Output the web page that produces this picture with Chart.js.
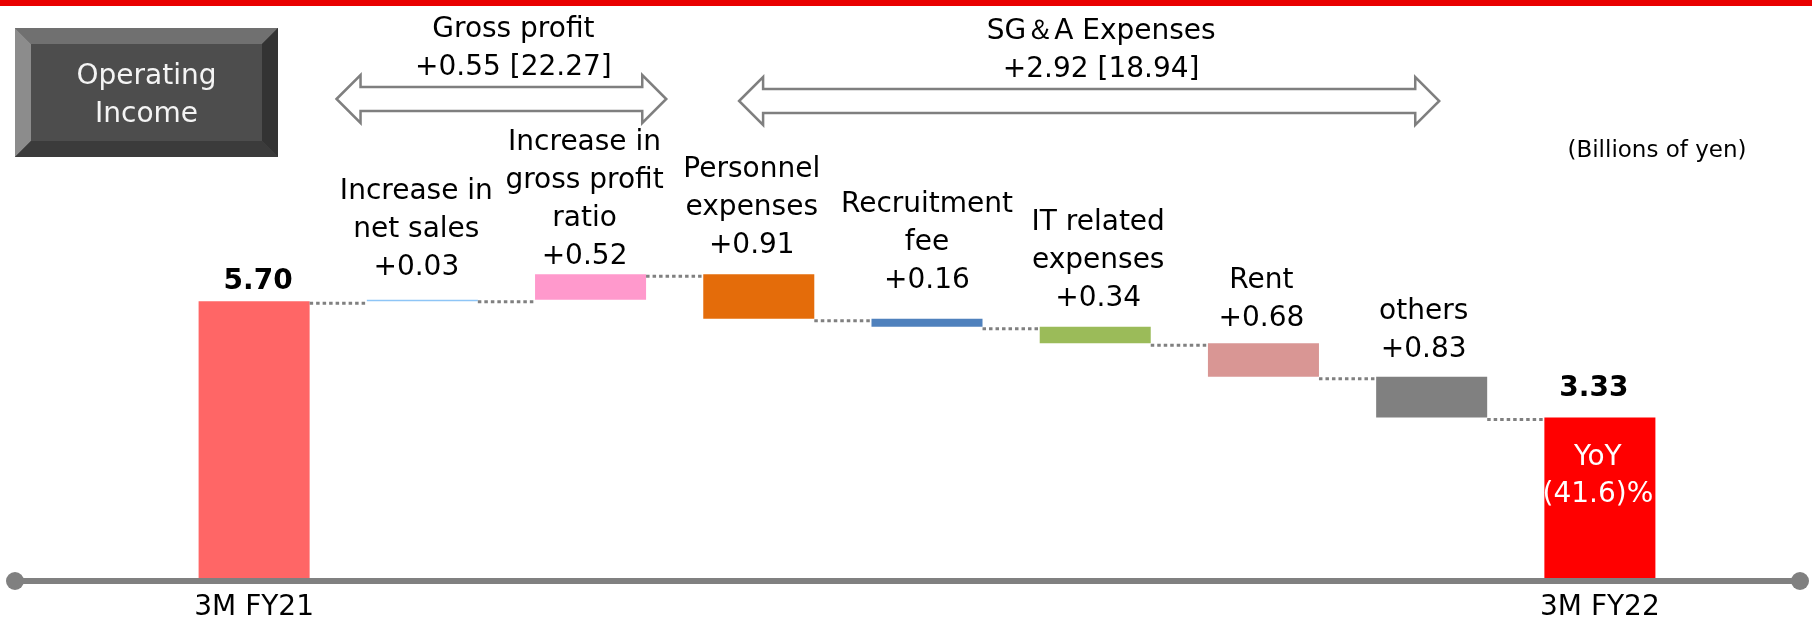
<!DOCTYPE html>
<html><head><meta charset="utf-8">
<script src="https://cdn.jsdelivr.net/npm/chart.js@4.4.1/dist/chart.umd.min.js"></script>
<style>html,body{margin:0;padding:0;background:#fff;}canvas{display:block;}</style>
</head><body>
<canvas id="c" width="1812" height="625"></canvas>
<script>
// ---- data ----
const categories = [["3M FY21"],["Increase in","net sales"],["Increase in","gross profit","ratio"],["Personnel","expenses"],["Recruitment","fee"],["IT related","expenses"],["Rent"],["others"],["3M FY22"]];
const tickLabels = ["3M FY21","","","","","","","","3M FY22"];
const startValue = 5.70;
const grossProfitChanges = [0.03, 0.52];
const sgaExpenseIncreases = [0.91, 0.16, 0.34, 0.68, 0.83];
const endValue = 3.33;
const groupTitles = ["Gross profit", "SG\uFF06A Expenses"];
const groupTotals = [22.27, 18.94];
const unitLabel = "(Billions of yen)";
const boxTitle = ["Operating", "Income"];

// ---- style ----
const barColors = ["#FF6666","#8EC5F6","#FF99CC","#E46C0A","#4F81BD","#9BBB59","#D99694","#808080","#FF0000"];
const labelGap = [12,25,10,21,31,21,17,20,21];
const labelDx = [4,-6,-6,-7,0,3,-2,-8,-6];
const groupSpans = [[0.49,2.45],[2.883,7.045]];
const groupArrowY = [99,101];
const FONT = "'DejaVu Sans', Verdana, sans-serif";

// waterfall ranges built from the read values
const steps = [...grossProfitChanges, ...sgaExpenseIncreases.map(v => -v)];
const stepLabels = [...grossProfitChanges, ...sgaExpenseIncreases].map(v => "+" + v.toFixed(2));
const ranges = [[0, startValue]];
const levels = [startValue];
let run = startValue;
steps.forEach(d => {
  const a = run; run = Math.round((run + d) * 100) / 100;
  ranges.push([Math.min(a, run), Math.max(a, run)]);
  levels.push(run);
});
ranges.push([0, endValue]);
const grossSum = grossProfitChanges.reduce((s,v)=>s+v,0);
const sgaSum = sgaExpenseIncreases.reduce((s,v)=>s+v,0);
const groupValues = [grossSum, sgaSum];
const yoy = (endValue - startValue) / startValue * 100;

function doubleArrow(ctx, xl, xr, yc) {
  const h = 24, sh = 12, hh = 24;
  ctx.beginPath();
  ctx.moveTo(xl, yc);
  ctx.lineTo(xl + h, yc - hh); ctx.lineTo(xl + h, yc - sh);
  ctx.lineTo(xr - h, yc - sh); ctx.lineTo(xr - h, yc - hh);
  ctx.lineTo(xr, yc);
  ctx.lineTo(xr - h, yc + hh); ctx.lineTo(xr - h, yc + sh);
  ctx.lineTo(xl + h, yc + sh); ctx.lineTo(xl + h, yc + hh);
  ctx.closePath();
  ctx.fillStyle = "#fff"; ctx.fill();
  ctx.strokeStyle = "#7F7F7F"; ctx.lineWidth = 2.5; ctx.lineJoin = "miter"; ctx.stroke();
}

const decor = {
  id: "decor",
  beforeDatasetsDraw(chart) {
    const ctx = chart.ctx;
    ctx.save();
    ctx.fillStyle = "#E90000"; ctx.fillRect(0, 0, chart.width, 6);
    const bx = 15, by = 28, bw = 263, bh = 129, bv = 16;
    ctx.fillStyle = "#4D4D4D"; ctx.fillRect(bx, by, bw, bh);
    const quad = (pts, col) => { ctx.beginPath(); ctx.moveTo(pts[0][0], pts[0][1]); pts.slice(1).forEach(p => ctx.lineTo(p[0], p[1])); ctx.closePath(); ctx.fillStyle = col; ctx.fill(); };
    quad([[bx,by],[bx+bw,by],[bx+bw-bv,by+bv],[bx+bv,by+bv]], "#707070");
    quad([[bx,by],[bx+bv,by+bv],[bx+bv,by+bh-bv],[bx,by+bh]], "#8C8C8C");
    quad([[bx+bw,by],[bx+bw,by+bh],[bx+bw-bv,by+bh-bv],[bx+bw-bv,by+bv]], "#333333");
    quad([[bx,by+bh],[bx+bv,by+bh-bv],[bx+bw-bv,by+bh-bv],[bx+bw,by+bh]], "#3B3B3B");
    ctx.fillStyle = "#F4F4F4"; ctx.font = "28px " + FONT; ctx.textAlign = "center"; ctx.textBaseline = "alphabetic";
    ctx.fillText(boxTitle[0], bx + bw/2, 84);
    ctx.fillText(boxTitle[1], bx + bw/2, 122);
    ctx.fillStyle = "#000"; ctx.font = "23px " + FONT;
    ctx.fillText(unitLabel, 1657, 157);
    const xs = chart.scales.x;
    groupSpans.forEach((sp, g) => {
      const xl = xs.getPixelForValue(sp[0]), xr = xs.getPixelForValue(sp[1]);
      const yc = groupArrowY[g];
      doubleArrow(ctx, xl, xr, yc);
      ctx.fillStyle = "#000"; ctx.font = "28px " + FONT; ctx.textAlign = "center";
      const cx = (xl + xr) / 2 + 12;
      ctx.fillText(groupTitles[g], cx, yc - 62);
      ctx.fillText("+" + groupValues[g].toFixed(2) + " [" + groupTotals[g].toFixed(2) + "]", cx, yc - 24);
    });
    ctx.restore();
  },
  afterDatasetsDraw(chart) {
    const ctx = chart.ctx;
    const meta = chart.getDatasetMeta(0);
    const ys = chart.scales.y;
    ctx.save();
    ctx.strokeStyle = "#808080"; ctx.lineWidth = 3; ctx.setLineDash([3.5, 3]);
    for (let i = 0; i < meta.data.length - 1; i++) {
      const a = meta.data[i], b = meta.data[i+1];
      const y = ys.getPixelForValue(levels[i]) + 2;
      ctx.beginPath();
      ctx.moveTo(a.x + a.width/2, y); ctx.lineTo(b.x - b.width/2, y); ctx.stroke();
    }
    ctx.setLineDash([]);
    const y0 = ys.getPixelForValue(0);
    ctx.strokeStyle = "#808080"; ctx.lineWidth = 6;
    ctx.beginPath(); ctx.moveTo(15, y0); ctx.lineTo(chart.width - 12, y0); ctx.stroke();
    ctx.fillStyle = "#808080";
    ctx.beginPath(); ctx.arc(15, y0, 9, 0, Math.PI*2); ctx.fill();
    ctx.beginPath(); ctx.arc(chart.width - 12, y0, 9, 0, Math.PI*2); ctx.fill();
    ctx.textAlign = "center"; ctx.textBaseline = "alphabetic";
    const last = meta.data.length - 1;
    meta.data.forEach((bar, i) => {
      const top = Math.min(bar.y, bar.base);
      const x = bar.x + labelDx[i];
      const baseY = top - labelGap[i];
      ctx.fillStyle = "#000";
      if (i === 0 || i === last) {
        ctx.font = "bold 28px " + FONT;
        ctx.fillText((i === 0 ? startValue : endValue).toFixed(2), x, baseY);
      } else {
        ctx.font = "28px " + FONT;
        const lines = [...categories[i], stepLabels[i-1]];
        lines.forEach((t, k) => ctx.fillText(t, x, baseY - (lines.length - 1 - k) * 38));
      }
    });
    const fb = meta.data[last];
    const ft = Math.min(fb.y, fb.base);
    ctx.fillStyle = "#fff"; ctx.font = "28px " + FONT;
    ctx.fillText("YoY", fb.x - 2, ft + 48);
    const yoyTxt = yoy < 0 ? "(" + Math.abs(yoy).toFixed(1) + ")%" : yoy.toFixed(1) + "%";
    ctx.fillText(yoyTxt, fb.x - 2, ft + 85);
    ctx.restore();
  }
};

new Chart(document.getElementById("c"), {
  type: "bar",
  data: {
    labels: tickLabels,
    datasets: [{
      data: ranges,
      backgroundColor: barColors,
      borderWidth: 0,
      barPercentage: 0.66,
      categoryPercentage: 1.0
    }]
  },
  options: {
    responsive: false,
    animation: false,
    devicePixelRatio: 1,
    layout: { padding: { left: 170, right: 128, top: 90, bottom: 0 } },
    plugins: { legend: { display: false }, tooltip: { enabled: false } },
    scales: {
      x: {
        offset: true,
        grid: { display: false, drawTicks: false },
        border: { display: false },
        afterFit(scale) { scale.height = 44; },
        ticks: { autoSkip: false, maxRotation: 0, padding: 13, color: "#000",
                 font: { family: FONT, size: 28, lineHeight: 1 } }
      },
      y: { display: false, min: 0, max: 10 }
    }
  },
  plugins: [decor]
});
</script>
</body></html>
